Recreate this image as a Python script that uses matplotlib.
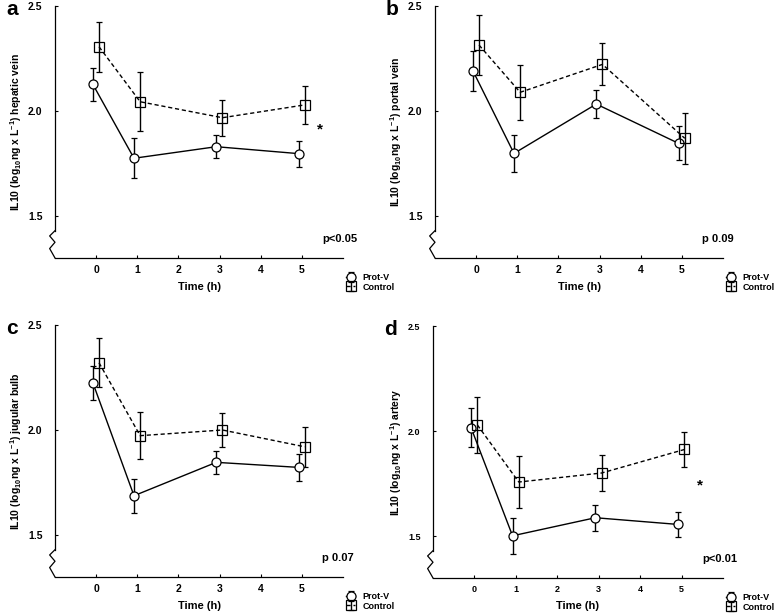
import numpy as np
import matplotlib.pyplot as plt

plt.rcParams['font.family'] = ['Liberation Sans', 'DejaVu Sans']
plt.rcParams['font.weight'] = 'bold'
plt.rcParams['mathtext.fontset'] = 'custom'
plt.rcParams['mathtext.rm'] = 'Liberation Sans:bold'
plt.rcParams['mathtext.it'] = 'Liberation Sans:bold'
plt.rcParams['mathtext.bf'] = 'Liberation Sans:bold'

times = [0, 1, 3, 5]
letters = ['a', 'b', 'c', 'd']
sites = ['hepatic vein', 'portal vein', 'jugular bulb', 'artery']
pvals = ['p<0.05', 'p 0.09', 'p 0.07', 'p<0.01']
stars = [(5.45, 1.91), None, None, (5.45, 1.74)]

# Prot-V means / error
protv_mean = [[2.127, 1.775, 1.830, 1.797],
              [2.192, 1.798, 2.033, 1.846],
              [2.225, 1.687, 1.846, 1.822],
              [2.015, 1.501, 1.587, 1.555]]
protv_err = [[0.080, 0.095, 0.056, 0.062],
             [0.095, 0.088, 0.066, 0.081],
             [0.081, 0.080, 0.056, 0.064],
             [0.093, 0.087, 0.061, 0.060]]
# Control means / error
ctrl_mean = [[2.306, 2.044, 1.968, 2.029],
             [2.314, 2.089, 2.222, 1.870],
             [2.320, 1.973, 2.000, 1.920],
             [2.029, 1.757, 1.800, 1.912]]
ctrl_err = [[0.118, 0.140, 0.085, 0.090],
            [0.143, 0.130, 0.100, 0.122],
            [0.117, 0.113, 0.079, 0.094],
            [0.135, 0.125, 0.088, 0.085]]

W, H = 778, 614
boxes = [(55, 6, 343, 258), (435, 6, 723, 258),
         (55, 325, 343, 577), (433, 326, 723, 578)]
tick_sizes = [7.5, 7.5, 7.5, 6.5]

fig = plt.figure(figsize=(W / 100, H / 100), dpi=100)

for i in range(4):
    x0, y0, x1, y1 = boxes[i]
    ax = fig.add_axes([x0 / W, (H - y1) / H, (x1 - x0) / W, (y1 - y0) / H])
    t = np.array(times, dtype=float)

    h1 = ax.errorbar(t - 0.08, protv_mean[i], yerr=protv_err[i], color='black',
                     lw=1, ls='-', marker='o', ms=6.5, mfc='white', mec='black',
                     mew=0.9, capsize=2.5, elinewidth=1, capthick=1)
    h2 = ax.errorbar(t + 0.07, ctrl_mean[i], yerr=ctrl_err[i], color='black',
                     lw=1, ls=(0, (3, 2)), marker='s', ms=6.5, mfc='none', mec='black',
                     mew=0.9, capsize=2.5, elinewidth=1, capthick=1)
    h2[-1][0].set_linestyle('-')

    ax.set_xlim(-1, 6)
    ax.set_ylim(1.3, 2.5)
    ax.set_xticks([0, 1, 2, 3, 4, 5])
    ax.set_yticks([1.5, 2.0, 2.5])
    ax.tick_params(direction='in', length=2, width=0.8, labelsize=tick_sizes[i])
    ax.tick_params(axis='x', pad=5)
    ax.tick_params(axis='y', pad=9)
    for lab in ax.get_xticklabels() + ax.get_yticklabels():
        lab.set_fontweight('bold')
    ax.spines['top'].set_visible(False)
    ax.spines['right'].set_visible(False)
    ax.spines['left'].set_bounds(1.43, 2.5)
    ax.spines['left'].set_linewidth(0.9)
    ax.spines['bottom'].set_linewidth(0.9)
    # axis break zigzag
    ax.plot([-1, -1.13, -1, -1.13, -1], [1.43, 1.405, 1.375, 1.345, 1.3],
            color='black', lw=0.9, clip_on=False)

    ax.set_xlabel('Time (h)', fontsize=8, fontweight='bold', labelpad=5)
    ax.set_ylabel(r'IL10 (log$_{10}$ng x L$^{-1}$) ' + sites[i], fontsize=7.5,
                  fontweight='bold', labelpad=3)

    ax.text(5.5, 1.39, pvals[i], fontsize=8, fontweight='bold', va='center', ha='left')
    if stars[i] is not None:
        ax.text(stars[i][0], stars[i][1], '*', fontsize=11, fontweight='bold',
                ha='center', va='center')

    ax.text(-0.17, 0.985, letters[i], transform=ax.transAxes, fontsize=15,
            fontweight='bold', ha='left', va='center')

    leg = ax.legend([h1, h2], ['Prot-V', 'Control'], loc='upper left',
                    bbox_to_anchor=(1.012, -0.06), frameon=False, fontsize=6.5,
                    handlelength=0.9, handletextpad=0.9, labelspacing=0.05,
                    borderpad=0, borderaxespad=0)
    for txt in leg.get_texts():
        txt.set_fontweight('bold')

fig.savefig('out.png', dpi=100)
